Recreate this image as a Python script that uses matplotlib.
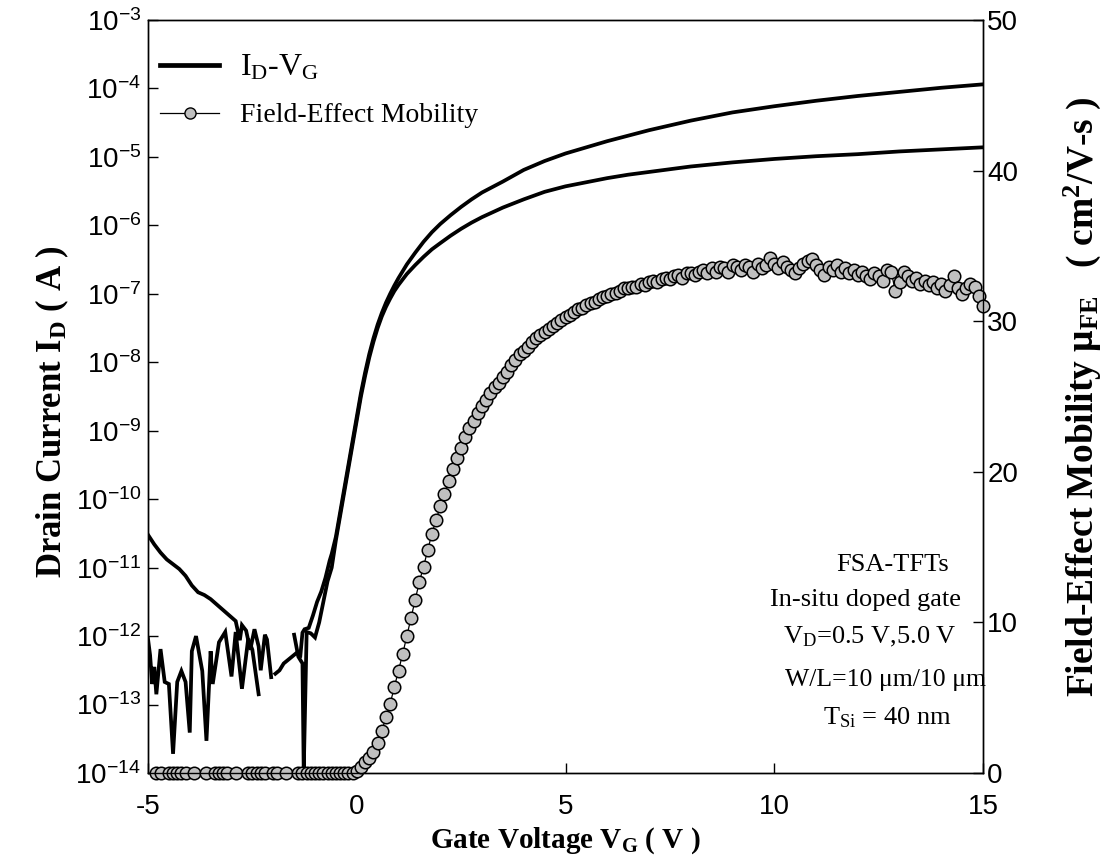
import numpy as np
import matplotlib
matplotlib.use("Agg")
import matplotlib.pyplot as plt
from matplotlib.lines import Line2D
from matplotlib.ticker import FixedLocator, FuncFormatter

plt.rcParams['mathtext.default'] = 'regular'
plt.rcParams['font.family'] = 'Liberation Sans'
plt.rcParams['axes.unicode_minus'] = False

# I_D-V_G, V_D = 5.0 V (log10 of current, NaN = gap in the measured data)
vg_hi = [-5.0, -4.85, -4.7, -4.55, -4.4, -4.25, -4.1, -3.95, -3.8, -3.65, -3.5,
         -3.35, -3.2, -3.05, -2.9, -2.8, -2.75, -2.65, -2.55, -2.45, -2.35, -2.3,
         -2.2, -2.15, -2.05, -2.0,
         -1.95, -1.85, -1.75, -1.65, -1.55, -1.45, -1.35, -1.3, -1.25, -1.15,
         -1.05, -0.95, -0.85, -0.75, -0.65, -0.6, -0.5, -0.4, -0.3, -0.2, -0.1,
         0.0, 0.1, 0.2, 0.3, 0.4, 0.5, 0.6, 0.7, 0.8, 0.9, 1.0, 1.2, 1.4, 1.6,
         1.8, 2.0, 2.25, 2.5, 2.75, 3.0, 3.5, 4.0, 4.5, 5.0, 5.5, 6.0, 6.5, 7.0,
         8.0, 9.0, 10.0, 11.0, 12.0, 13.0, 14.0, 15.0]
log_id_hi = [-10.52, -10.66, -10.78, -10.88, -10.95, -11.02, -11.12, -11.26,
             -11.36, -11.40, -11.46, -11.54, -11.62, -11.70, -11.78, -12.06,
             -11.84, -11.92, -12.20, -11.90, -12.15, -12.50, -11.98, -12.05,
             -12.60, np.nan,
             -12.55, -12.50, -12.40, -12.35, -12.30, -12.25, -12.28, -11.95,
             -11.90, -11.88, -11.70, -11.50, -11.35, -11.15, -10.90, -10.80,
             -10.55, -10.20, -9.85, -9.50, -9.15, -8.80, -8.45, -8.15, -7.88,
             -7.65, -7.45, -7.28, -7.13, -7.00, -6.88, -6.77, -6.57, -6.40,
             -6.24, -6.10, -5.98, -5.85, -5.73, -5.62, -5.52, -5.36, -5.19,
             -5.06, -4.95, -4.86, -4.77, -4.69, -4.61, -4.47, -4.35, -4.26,
             -4.18, -4.11, -4.05, -3.99, -3.94]

# I_D-V_G, V_D = 0.5 V
vg_lo = [-5.0, -4.95, -4.9, -4.85, -4.8, -4.7, -4.6, -4.5, -4.4, -4.3, -4.2,
         -4.1, -4.0, -3.95, -3.85, -3.7, -3.6, -3.5, -3.45, -3.3, -3.15, -3.0,
         -2.9, -2.75, -2.6, -2.5, -2.35, -2.2,
         -1.5, -1.4, -1.3, -1.27, -1.2, -1.1, -1.0, -0.9, -0.8, -0.7, -0.6,
         -0.5, -0.4, -0.3, -0.2, -0.1, 0.0, 0.1, 0.2, 0.3, 0.4, 0.5, 0.6, 0.7,
         0.8, 0.9, 1.0, 1.2, 1.4, 1.6, 1.8, 2.0, 2.25, 2.5, 2.75, 3.0, 3.5, 4.0,
         4.5, 5.0, 5.5, 6.0, 6.5, 7.0, 8.0, 9.0, 10.0, 11.0, 12.0, 13.0, 14.0,
         15.0]
log_id_lo = [-12.04, -12.28, -12.70, -12.45, -12.85, -12.19, -12.67, -12.70,
             -13.72, -12.67, -12.51, -12.67, -13.41, -12.22, -12.00, -12.51,
             -13.53, -12.22, -12.70, -12.09, -11.94, -12.59, -11.94, -12.77,
             -12.04, -12.20, -12.85, np.nan,
             -11.98, -12.30, -12.40, -13.98, -11.94, -11.96, -12.02, -11.80,
             -11.50, -11.20, -11.00, -10.60, -10.25, -9.90, -9.55, -9.20, -8.85,
             -8.50, -8.20, -7.93, -7.70, -7.50, -7.33, -7.19, -7.07, -6.96,
             -6.87, -6.71, -6.58, -6.46, -6.35, -6.26, -6.15, -6.05, -5.96,
             -5.88, -5.74, -5.62, -5.51, -5.43, -5.37, -5.31, -5.26, -5.22,
             -5.14, -5.08, -5.03, -4.99, -4.96, -4.92, -4.89, -4.86]

# field-effect mobility (cm^2/V-s), zero below threshold
vg_mob_off = [-4.8, -4.7, -4.5, -4.4, -4.3, -4.2, -4.1, -3.9, -3.6, -3.4, -3.3,
              -3.2, -3.1, -2.9, -2.6, -2.5, -2.4, -2.3, -2.2, -2.0, -1.9, -1.7,
              -1.4, -1.3, -1.2, -1.1, -1.0, -0.9, -0.8, -0.7, -0.6, -0.5, -0.4,
              -0.3, -0.2, -0.1]
mob_on = [0.1, 0.4, 0.7, 1.0, 1.4, 2.0, 2.8, 3.7, 4.6, 5.7,
          6.8, 7.9, 9.1, 10.3, 11.5, 12.7, 13.7, 14.8, 15.9, 16.8,
          17.7, 18.5, 19.4, 20.2, 20.9, 21.6, 22.3, 22.9, 23.4, 23.9,
          24.4, 24.8, 25.2, 25.6, 25.9, 26.3, 26.6, 27.1, 27.4, 27.8,
          28.0, 28.3, 28.6, 28.9, 29.1, 29.3, 29.5, 29.7, 29.9, 30.1,
          30.3, 30.4, 30.6, 30.8, 30.9, 31.1, 31.2, 31.3, 31.5, 31.6,
          31.7, 31.8, 31.9, 32.0, 32.2, 32.2, 32.3, 32.3, 32.5, 32.4,
          32.6, 32.7, 32.6, 32.8, 32.9, 32.8, 33.0, 33.1, 32.9, 33.2,
          33.2, 33.1, 33.3, 33.4, 33.2, 33.5, 33.3, 33.6, 33.5, 33.3,
          33.7, 33.6, 33.4, 33.7, 33.6, 33.3, 33.8, 33.5, 33.7, 34.2,
          33.8, 33.5, 33.9, 33.6, 33.4, 33.2, 33.5, 33.8, 34.0, 34.1,
          33.7, 33.4, 33.1, 33.6, 33.4, 33.7, 33.3, 33.5, 33.2, 33.4,
          33.1, 33.3, 33.0, 32.8, 33.2, 33.0, 32.7, 33.4, 33.3, 32.0,
          32.6, 33.3, 33.0, 32.7, 32.9, 32.5, 32.7, 32.4, 32.6, 32.2,
          32.5, 32.0, 32.4, 33.0, 32.2, 31.8, 32.2, 32.5, 32.3, 31.7,
          31.0]
# measurement sweep above threshold: 0.0 V to 15.0 V in 0.1 V steps
vg_mob_on = np.round(np.linspace(0.0, 15.0, len(mob_on)), 2)

log_ticks = list(range(-14, -2))
mob_ticks = [0, 10, 20, 30, 40, 50]
vg_ticks = [-5, 0, 5, 10, 15]

annot = ["FSA-TFTs", "In-situ doped gate", "V$_{D}$=0.5 V,5.0 V",
         "W/L=10 \u03bcm/10 \u03bcm", "T$_{Si}$ = 40 nm"]

serif = "Liberation Serif"

fig = plt.figure(figsize=(11.12, 8.65), dpi=100)
ax = fig.add_axes([148 / 1112, 1 - 773 / 865, 835 / 1112, 753 / 865])
ax2 = ax.twinx()

ax.plot(vg_hi, 10.0 ** np.array(log_id_hi), color="black", lw=2.7,
        solid_joinstyle="miter", zorder=3)
ax.plot(vg_lo, 10.0 ** np.array(log_id_lo), color="black", lw=2.7,
        solid_joinstyle="miter", zorder=3)

vg_mob = list(vg_mob_off) + list(vg_mob_on)
mob = [0.0] * len(vg_mob_off) + list(mob_on)
ax2.plot(vg_mob, mob, color="black", lw=0.9, marker="o", ms=9,
         mfc="#c0c0c0", mec="black", mew=1.1, clip_on=False, zorder=2)

ax.set_yscale("log")
ax.set_xlim(-5, 15)
ax.set_ylim(1e-14, 1e-3)
ax2.set_ylim(0, 50)

ax.xaxis.set_major_locator(FixedLocator(vg_ticks))
ax.yaxis.set_major_locator(FixedLocator([10.0 ** k for k in log_ticks]))
ax.yaxis.set_minor_locator(FixedLocator([]))
ax.yaxis.set_major_formatter(FuncFormatter(
    lambda v, p: "10$^{-%d}$" % round(-np.log10(v))))
ax2.yaxis.set_major_locator(FixedLocator(mob_ticks))

for a in (ax, ax2):
    a.tick_params(direction="in", length=7, width=1, labelsize=20)
    for s in a.spines.values():
        s.set_linewidth(1.0)
ax.tick_params(axis="x", pad=15)
ax.tick_params(axis="y", pad=5)
ax2.tick_params(axis="y", pad=3)

ax.set_xlabel("Gate Voltage V$_{G}$ ( V )", fontfamily=serif,
              fontweight="bold", fontsize=21, labelpad=4)
ax.set_ylabel("Drain Current I$_{D}$ ( A )", fontfamily=serif,
              fontweight="bold", fontsize=25)
ax.yaxis.set_label_coords(-0.092, 0.48)
ax2.set_ylabel("Field-Effect Mobility \u03bc$_{FE}$   ( cm$^{2}$/V-s )",
               fontfamily=serif, fontweight="bold", fontsize=27)
ax2.yaxis.set_label_coords(1.094, 0.50)

xs = [0.892, 0.859, 0.865, 0.883, 0.886]
ys = [0.276, 0.230, 0.181, 0.124, 0.073]
sizes = [19, 19, 19, 18.5, 19]
for t, x, y, fs in zip(annot, xs, ys, sizes):
    ax.text(x, y, t, transform=ax.transAxes, ha="center", va="center",
            fontfamily=serif, fontsize=fs)

handles = [Line2D([], [], color="black", lw=3.4),
           Line2D([], [], color="black", lw=0.9, marker="o", ms=8,
                  mfc="#c0c0c0", mec="black")]
leg = ax.legend(handles, ["I$_{D}$-V$_{G}$", "Field-Effect Mobility"],
                loc="upper left", bbox_to_anchor=(-0.015, 0.99), frameon=False,
                handlelength=2.1, handletextpad=0.75, labelspacing=0.75,
                prop={"family": serif, "size": 20})
leg.get_texts()[0].set_fontsize(23)

fig.savefig("out.png", dpi=100)
